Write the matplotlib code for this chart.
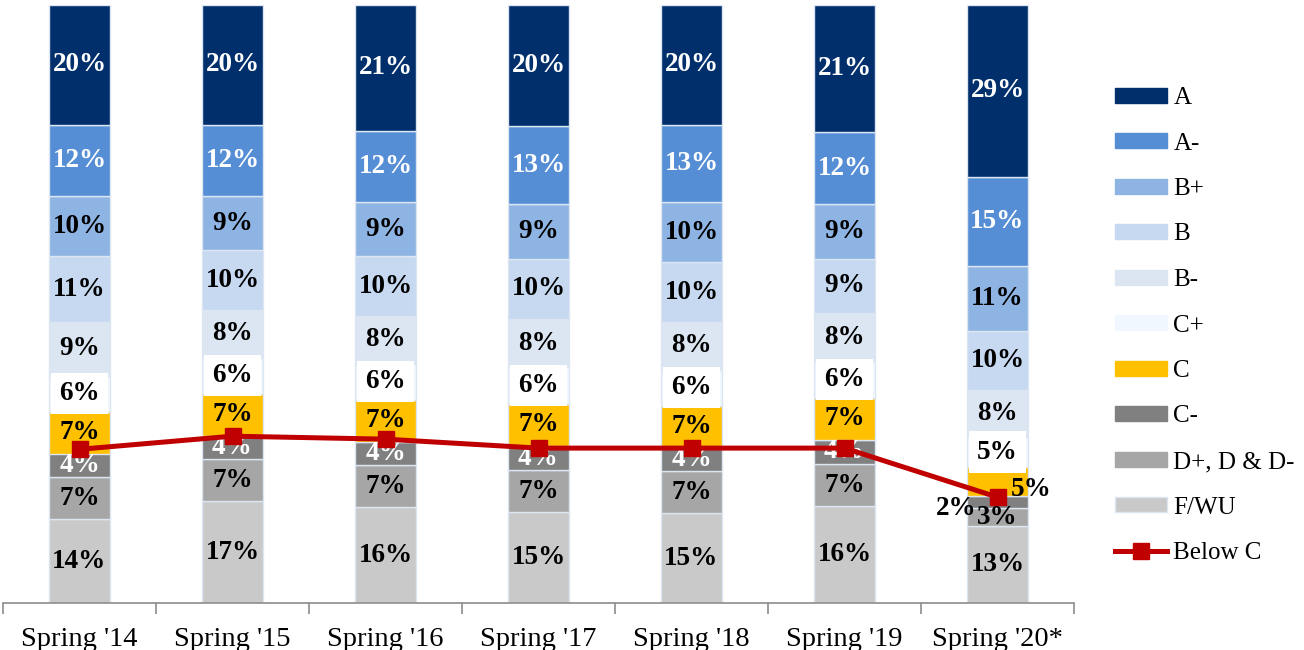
import numpy as np
import matplotlib
matplotlib.use('Agg')
import matplotlib.pyplot as plt
from matplotlib.patches import Patch
from matplotlib.lines import Line2D

terms = ["Spring '14", "Spring '15", "Spring '16", "Spring '17",
         "Spring '18", "Spring '19", "Spring '20*"]

grades = ['A', 'A-', 'B+', 'B', 'B-', 'C+', 'C', 'C-', 'D+, D & D-', 'F/WU']

# percent of grades, per term (top of stack first)
g_A  = [20, 20, 21, 20, 20, 21, 29]
g_Am = [12, 12, 12, 13, 13, 12, 15]
g_Bp = [10, 9, 9, 9, 10, 9, 11]
g_B  = [11, 10, 10, 10, 10, 9, 10]
g_Bm = [9, 8, 8, 8, 8, 8, 8]
g_Cp = [6, 6, 6, 6, 6, 6, 5]
g_C  = [7, 7, 7, 7, 7, 7, 5]
g_Cm = [4, 4, 4, 4, 4, 4, 2]
g_D  = [7, 7, 7, 7, 7, 7, 3]
g_F  = [14, 17, 16, 15, 15, 16, 13]

below_c = [25.7, 27.9, 27.4, 25.9, 25.9, 25.9, 17.7]

colors = ['#002f6c', '#558ed5', '#8eb4e3', '#c6d9f1', '#dce6f2',
          '#f0f7fe', '#ffc000', '#808080', '#a6a6a6', '#c9c9c9']
label_colors = ['white', 'white', 'black', 'black', 'black',
                'black', 'black', 'white', 'black', 'black']

plt.rcParams['font.family'] = ['Liberation Serif', 'DejaVu Serif']

series = [g_A, g_Am, g_Bp, g_B, g_Bm, g_Cp, g_C, g_Cm, g_D, g_F]
data = np.array(series, dtype=float)
data = data / data.sum(axis=0) * 100   # 100% stacked

x = np.arange(len(terms))

fig = plt.figure(figsize=(13.04, 6.5), dpi=100)
ax = fig.add_axes([3 / 1304, 47 / 650, 1071 / 1304, 598 / 650])

bottom = np.zeros(len(terms))
for i in range(len(grades) - 1, -1, -1):
    vals = data[i]
    ax.bar(x, vals, width=0.4, bottom=bottom, color=colors[i],
           edgecolor='#dce6f2', linewidth=1, zorder=2)
    for j in range(len(terms)):
        lx, ly = x[j], bottom[j] + vals[j] / 2
        txt = '%d%%' % series[i][j]
        col = label_colors[i]
        ha = 'center'
        bbox = None
        if grades[i] == 'C+':
            bbox = dict(boxstyle='square,pad=0.3', fc='white', ec='none')
        if j == 6 and grades[i] == 'C':
            lx, ly, ha = x[j] + 0.09, ly - 1.3, 'left'
        if j == 6 and grades[i] == 'C-':
            lx, ly, ha, col = x[j] - 0.14, ly - 1.0, 'right', 'black'
        ax.text(lx, ly, txt, ha=ha, va='center', color=col,
                fontsize=19.5, fontweight='bold', zorder=3, bbox=bbox)
    bottom += vals

ax.plot(x, below_c, color='#c00000', lw=3.6, marker='s', ms=12,
        zorder=4)

ax.set_xlim(-0.5, len(terms) - 0.5)
ax.set_ylim(0, 100)
for s in ['top', 'right', 'left']:
    ax.spines[s].set_visible(False)
ax.spines['bottom'].set_color('#8c8c8c')
ax.spines['bottom'].set_linewidth(1.2)
ax.set_yticks([])
ax.set_xticks(x)
ax.set_xticklabels(terms, fontsize=20.5)
ax.tick_params(axis='x', which='major', length=0, pad=17)
ax.set_xticks(np.arange(len(terms) + 1) - 0.5, minor=True)
ax.tick_params(axis='x', which='minor', length=8, color='#8c8c8c',
               width=1.2)

handles = [Patch(facecolor=c, edgecolor='#dce6f2' if g == 'F/WU' else c,
                 label=g) for g, c in zip(grades, colors)]
handles.append(Line2D([], [], color='#c00000', lw=3.6, marker='s', ms=12,
                      label='Below C'))
fig.legend(handles=handles, loc='upper left',
           bbox_to_anchor=(1115 / 1304, 1 - 87 / 650),
           frameon=False, fontsize=18, handlelength=2.08, handleheight=0.56,
           labelspacing=0.94, handletextpad=0.25, borderpad=0,
           borderaxespad=0)

fig.savefig('out.png', dpi=100)
